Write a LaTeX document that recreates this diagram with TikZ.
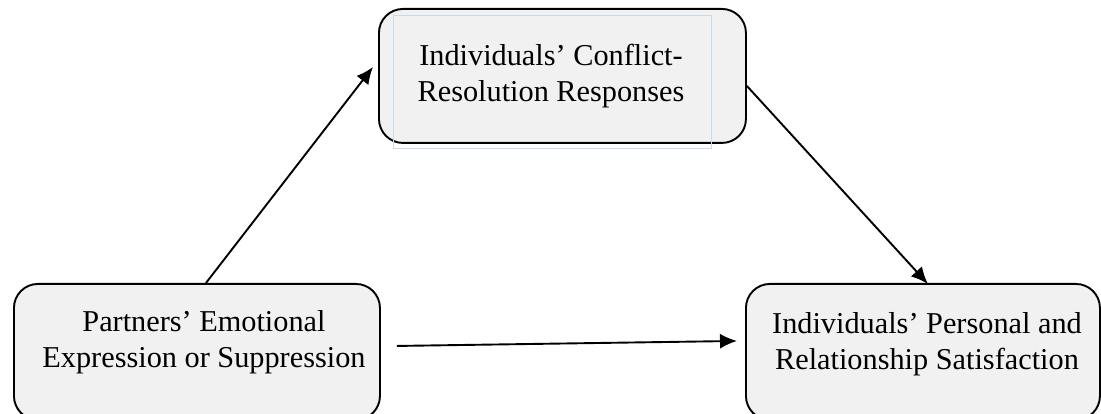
\documentclass[tikz,border=0pt]{standalone}
\usepackage{fontspec}
\setmainfont{Liberation Serif}
\usetikzlibrary{arrows.meta,calc}
\definecolor{boxfill}{HTML}{F1F1F1}
\definecolor{frameblue}{HTML}{C9DAF0}
\begin{document}
\begin{tikzpicture}[x=1pt,y=-1pt,
  varbox/.style={draw=black,line width=1.9pt,fill=boxfill,rounded corners=24pt,
    inner sep=0pt,anchor=north west},
  label text/.style={align=center,inner sep=0pt,
    font=\fontsize{30.3}{36.5}\selectfont},
  link/.style={line width=1.9pt,-{Latex[length=17pt,width=15pt]}}]
\useasboundingbox (0,0) rectangle (1101,414);
\clip (0,0) rectangle (1101,414);
% the three variable boxes
\node[varbox,minimum width=367pt,minimum height=134pt] (tb) at (378,8) {};
\node[varbox,minimum width=366pt,minimum height=136pt] (bl) at (13,283) {};
\node[varbox,minimum width=354pt,minimum height=136pt] (br) at (745,283) {};
% text frame inside the upper box
\node[draw=frameblue,line width=0.8pt,minimum width=318pt,minimum height=133pt,
  inner sep=0pt,anchor=north west] (tbframe) at (393,15) {};
% box texts
\node[label text] (tbtext) at (551,76) {Individuals’ Conflict-\\Resolution Responses};
\node[label text] (bltext) at (204,342) {Partners’ Emotional\\Expression or Suppression};
\node[label text] (brtext) at (927,344) {Individuals’ Personal and\\Relationship Satisfaction};
% paths between the boxes
\coordinate (dstart) at ($(bl.east)+(16,-6)$);
\draw[link] ($(bl.north)+(9,0)$) -- ($(tb.west)+(-5,-9)$);
\draw[link] ($(tb.east)+(0,10)$) -- ($(br.north)+(5,1)$);
\draw[link] (dstart) -- ($(br.west)+(-8,-11)$);
\end{tikzpicture}
\end{document}
